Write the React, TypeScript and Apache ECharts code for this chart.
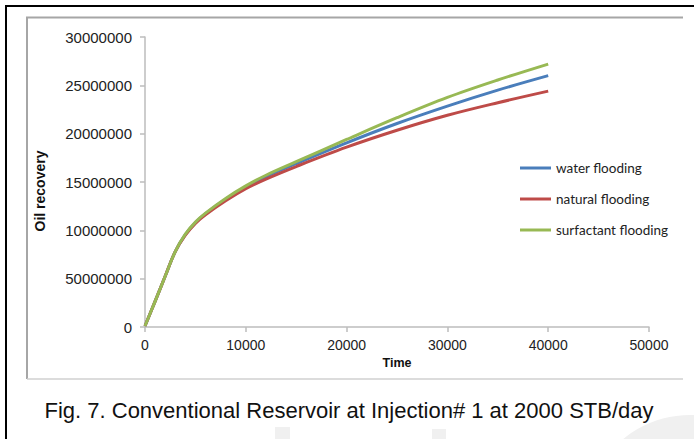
import React, { useEffect, useRef } from "react";
import * as echarts from "echarts";

const timeValues = [0, 1000, 2000, 3000, 4000, 5000, 6000, 8000, 10000, 12000, 15000, 20000, 25000, 30000, 35000, 40000];
const waterFlooding = [100000, 2650000, 5250000, 7800000, 9550000, 10800000, 11720000, 13220000, 14480000, 15550000, 16900000, 19050000, 21050000, 22850000, 24500000, 26000000];
const naturalFlooding = [100000, 2650000, 5250000, 7800000, 9500000, 10720000, 11600000, 13050000, 14300000, 15300000, 16600000, 18600000, 20350000, 21900000, 23200000, 24400000];
const surfactantFlooding = [100000, 2650000, 5250000, 7800000, 9600000, 10850000, 11780000, 13300000, 14600000, 15700000, 17100000, 19400000, 21650000, 23750000, 25550000, 27200000];
const seriesNames = ["water flooding", "natural flooding", "surfactant flooding"];
const seriesColors = ["#4a7ebb", "#be4b48", "#98b954"];
const yTickLabels = ["0", "50000000", "10000000", "15000000", "20000000", "25000000", "30000000"];
const xTickLabels = ["0", "10000", "20000", "30000", "40000", "50000"];
const yAxisTitle = "Oil recovery";
const xAxisTitle = "Time";
const caption = "Fig. 7. Conventional Reservoir at Injection# 1 at 2000 STB/day";

const FONT = "'Liberation Sans', Arial, sans-serif";

export default function App() {
  const ref = useRef<HTMLDivElement>(null);
  useEffect(() => {
    if (!ref.current) return;
    const chart = echarts.init(ref.current, null, { renderer: "svg" });
    const allSeries = [waterFlooding, naturalFlooding, surfactantFlooding];
    chart.setOption({
      animation: false,
      backgroundColor: "#ffffff",
      grid: { left: 145, right: 45, top: 37, bottom: 112 },
      legend: {
        orient: "vertical",
        left: 515,
        top: 154,
        icon: "rect",
        itemWidth: 31,
        itemHeight: 3,
        itemGap: 13,
        data: seriesNames,
        textStyle: { fontFamily: "Lato, sans-serif", fontSize: 13.5, color: "#222", lineHeight: 18 },
      },
      xAxis: {
        type: "value",
        min: 0,
        max: 50000,
        interval: 10000,
        splitLine: { show: false },
        axisLine: { lineStyle: { color: "#bdbdbd", width: 1.5 } },
        axisTick: { length: 5, lineStyle: { color: "#bdbdbd", width: 1.5 } },
        axisLabel: {
          margin: 11,
          fontFamily: FONT,
          fontSize: 14,
          color: "#222",
          formatter: (v: number) => xTickLabels[Math.round(v / 10000)],
        },
      },
      yAxis: {
        type: "value",
        min: 0,
        max: 30000000,
        interval: 5000000,
        splitLine: { show: false },
        axisLine: { show: true, lineStyle: { color: "#bdbdbd", width: 1.5 } },
        axisTick: { show: true, length: 5, lineStyle: { color: "#bdbdbd", width: 1.5 } },
        axisLabel: {
          margin: 13,
          fontFamily: FONT,
          fontSize: 15,
          color: "#222",
          formatter: (v: number) => yTickLabels[Math.round(v / 5000000)],
        },
      },
      series: allSeries.map((vals, i) => ({
        name: seriesNames[i],
        type: "line",
        smooth: 0.35,
        showSymbol: false,
        symbol: "none",
        color: seriesColors[i],
        lineStyle: { width: 3, color: seriesColors[i] },
        data: timeValues.map((t, j) => [t, vals[j]]),
      })),
      graphic: [
        {
          type: "circle",
          silent: true,
          shape: { cx: 690, cy: 520, r: 105 },
          style: { fill: "#f0f0f0" },
        },
        {
          type: "rect",
          silent: true,
          shape: { x: 275, y: 427, width: 15, height: 12 },
          style: { fill: "#f0f0f0" },
        },
        {
          type: "rect",
          silent: true,
          shape: { x: 432, y: 429, width: 14, height: 10 },
          style: { fill: "#f0f0f0" },
        },
        {
          type: "polyline",
          shape: { points: [[694, 6], [6, 6], [6, 439]] },
          style: { stroke: "#000", lineWidth: 2, fill: "none" },
        },
        {
          type: "polyline",
          shape: { points: [[683, 17.5], [27, 17.5], [27, 379]] },
          style: { stroke: "#a6a6a6", lineWidth: 2, fill: "none" },
        },
        {
          type: "line",
          shape: { x1: 27, y1: 379, x2: 683, y2: 379 },
          style: { stroke: "#d0d0d0", lineWidth: 1.5 },
        },
        {
          type: "text",
          x: 40,
          y: 191,
          rotation: Math.PI / 2,
          style: {
            text: yAxisTitle,
            font: `bold 14px ${FONT}`,
            fill: "#111",
            textAlign: "center",
            textVerticalAlign: "middle",
          },
        },
        {
          type: "text",
          x: 397,
          y: 363,
          style: {
            text: xAxisTitle,
            font: `bold 12.5px ${FONT}`,
            fill: "#111",
            textAlign: "center",
            textVerticalAlign: "middle",
          },
        },
        {
          type: "text",
          x: 349,
          y: 410,
          style: {
            text: caption,
            font: `22px ${FONT}`,
            fill: "#111",
            textAlign: "center",
            textVerticalAlign: "middle",
          },
        },
      ],
    });
    return () => chart.dispose();
  }, []);
  return (
    <div
      ref={ref}
      style={{ position: "absolute", left: 0, top: 0, width: 694, height: 439, background: "#fff" }}
    />
  );
}
